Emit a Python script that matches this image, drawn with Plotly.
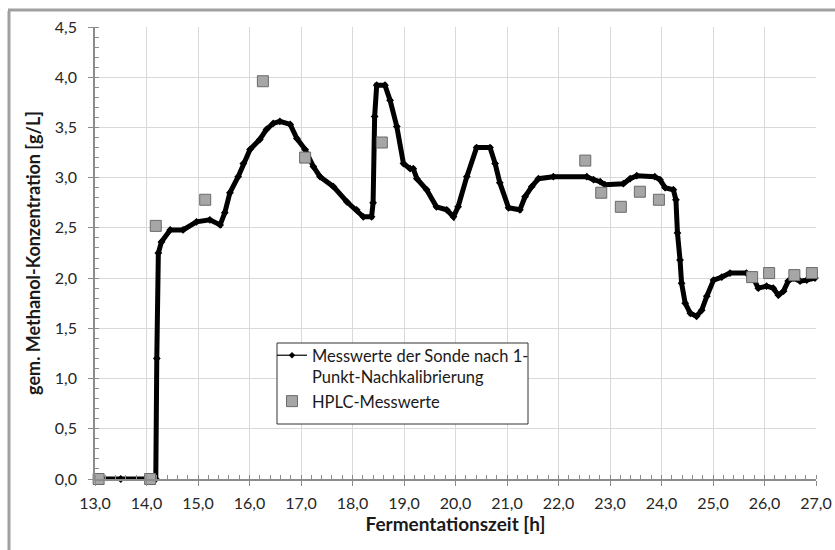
import plotly.graph_objects as go

# Probe measurements (Sonde nach 1-Punkt-Nachkalibrierung)
probe_time = [13.07, 13.5, 14.0, 14.18, 14.20, 14.23, 14.29, 14.46, 14.71, 14.97, 15.23, 15.43,
              15.52, 15.62, 15.78, 15.88, 16.01, 16.20, 16.33, 16.46, 16.59, 16.79, 16.92,
              17.08, 17.24, 17.37, 17.63, 17.89, 18.08, 18.21, 18.37, 18.40, 18.43, 18.47,
              18.63, 18.73, 18.86, 18.99, 19.12, 19.18, 19.25, 19.44, 19.63, 19.83, 19.96,
              20.05, 20.22, 20.41, 20.67, 20.77, 20.86, 21.03, 21.25, 21.35, 21.48, 21.61,
              21.90, 22.55, 22.68, 22.81, 22.90, 23.26, 23.39, 23.52, 23.87, 23.97, 24.07,
              24.23, 24.28, 24.31, 24.36, 24.39, 24.46, 24.56, 24.68, 24.78, 24.88, 25.01,
              25.17, 25.33, 25.65, 25.78, 25.88, 26.04, 26.17, 26.27, 26.37, 26.46, 26.56,
              26.69, 26.82, 26.98]
probe_conc = [0.00, 0.00, 0.00, 0.00, 1.20, 2.25, 2.36, 2.48, 2.48, 2.56, 2.58, 2.53,
              2.65, 2.85, 3.01, 3.14, 3.28, 3.38, 3.48, 3.54, 3.56, 3.53, 3.39,
              3.28, 3.11, 3.01, 2.91, 2.76, 2.68, 2.61, 2.61, 2.75, 3.61, 3.92,
              3.92, 3.77, 3.51, 3.14, 3.09, 3.09, 2.99, 2.88, 2.71, 2.68, 2.61,
              2.71, 3.01, 3.30, 3.30, 3.14, 2.95, 2.70, 2.68, 2.81, 2.91, 2.99,
              3.01, 3.01, 2.98, 2.96, 2.93, 2.94, 2.99, 3.02, 3.01, 2.98, 2.90,
              2.88, 2.78, 2.45, 2.18, 1.95, 1.75, 1.65, 1.62, 1.68, 1.82, 1.98,
              2.01, 2.05, 2.05, 2.00, 1.90, 1.92, 1.90, 1.83, 1.87, 1.97, 2.00,
              1.97, 1.98, 2.00]

# HPLC reference measurements
hplc_time = [13.07, 14.07, 14.18, 15.14, 16.26, 17.08, 18.57, 22.52, 22.83, 23.21, 23.58,
             23.95, 25.76, 26.09, 26.58, 26.92]
hplc_conc = [0.00, 0.00, 2.52, 2.78, 3.96, 3.20, 3.35, 3.17, 2.85, 2.71, 2.86,
             2.78, 2.01, 2.05, 2.03, 2.05]

x_ticks = [13, 14, 15, 16, 17, 18, 19, 20, 21, 22, 23, 24, 25, 26, 27]
y_ticks = [0, 0.5, 1.0, 1.5, 2.0, 2.5, 3.0, 3.5, 4.0, 4.5]

label_probe = "Messwerte der Sonde nach 1-<br>Punkt-Nachkalibrierung"
label_hplc = "HPLC-Messwerte"

FONT = "Lato, 'Open Sans', sans-serif"

W, H = 835, 550
L, R, T, B = 95, 19, 27, 71
pw, ph = W - L - R, H - T - B


def px(xp):
    return (xp - L) / pw


def py(yp):
    return (H - B - yp) / ph


fig = go.Figure()

fig.add_trace(go.Scatter(
    x=probe_time, y=probe_conc, mode="lines+markers",
    line=dict(color="black", width=5),
    marker=dict(symbol="diamond", size=6, color="black"),
    showlegend=False, hoverinfo="x+y", cliponaxis=False))

# legend entry for the probe series (thin line with small marker)
fig.add_trace(go.Scatter(
    x=[None], y=[None], mode="lines+markers", name=label_probe,
    line=dict(color="black", width=1.2),
    marker=dict(symbol="diamond", size=5, color="black")))

fig.add_trace(go.Scatter(
    x=hplc_time, y=hplc_conc, mode="markers", name=label_hplc,
    marker=dict(symbol="square", size=11, color="#a6a6a6",
                line=dict(color="#6a6a6a", width=1)),
    cliponaxis=False))

axis_common = dict(
    showgrid=True, gridcolor="#d9d9d9", gridwidth=1,
    showline=True, linecolor="#8c8c8c", linewidth=1.5,
    ticks="outside", ticklen=5, tickcolor="#8c8c8c", tickwidth=1,
    tickfont=dict(family=FONT, size=16, color="#262626"),
    zeroline=False, mirror=False,
)

fig.update_layout(
    width=W, height=H,
    margin=dict(l=L, r=R, t=T, b=B, autoexpand=False),
    paper_bgcolor="white", plot_bgcolor="white",
    separators=",.",
    font=dict(family=FONT, color="#262626"),
    xaxis=dict(range=[13, 27], tickvals=x_ticks, tickformat=".1f",
               ticklabelstandoff=4,
               minor=dict(dtick=0.2, ticks="inside", ticklen=4, tickcolor="#8c8c8c",
                          showgrid=False),
               title=dict(text="<b>Fermentationszeit [h]</b>",
                          font=dict(family=FONT, size=19, color="#1a1a1a"), standoff=6),
               **axis_common),
    yaxis=dict(range=[0, 4.5], tickvals=y_ticks, tickformat=".1f",
               ticklabelstandoff=8,
               minor=dict(dtick=0.1, ticks="inside", ticklen=4, tickcolor="#8c8c8c",
                          showgrid=False),
               title=dict(text="<b>gem. Methanol-Konzentration [g/L]</b>",
                          font=dict(family=FONT, size=18, color="#1a1a1a"), standoff=10),
               **axis_common),
    legend=dict(x=px(272), y=py(338), xanchor="left", yanchor="top",
                bgcolor="rgba(0,0,0,0)", borderwidth=0,
                font=dict(family=FONT, size=16.5, color="#1a1a1a"),
                valign="top", tracegroupgap=4),
    shapes=[
        dict(type="rect", xref="paper", yref="paper",
             x0=px(277), x1=px(528), y0=py(424), y1=py(343),
             fillcolor="white", line=dict(color="#333333", width=1), layer="above"),
        dict(type="line", xref="paper", yref="paper",
             x0=px(9), x1=px(9), y0=py(11), y1=py(560),
             line=dict(color="#a0a0a0", width=3)),
        dict(type="line", xref="paper", yref="paper",
             x0=px(8), x1=px(840), y0=py(10), y1=py(10),
             line=dict(color="#a0a0a0", width=3)),
    ],
)

fig.write_html("out.html")
